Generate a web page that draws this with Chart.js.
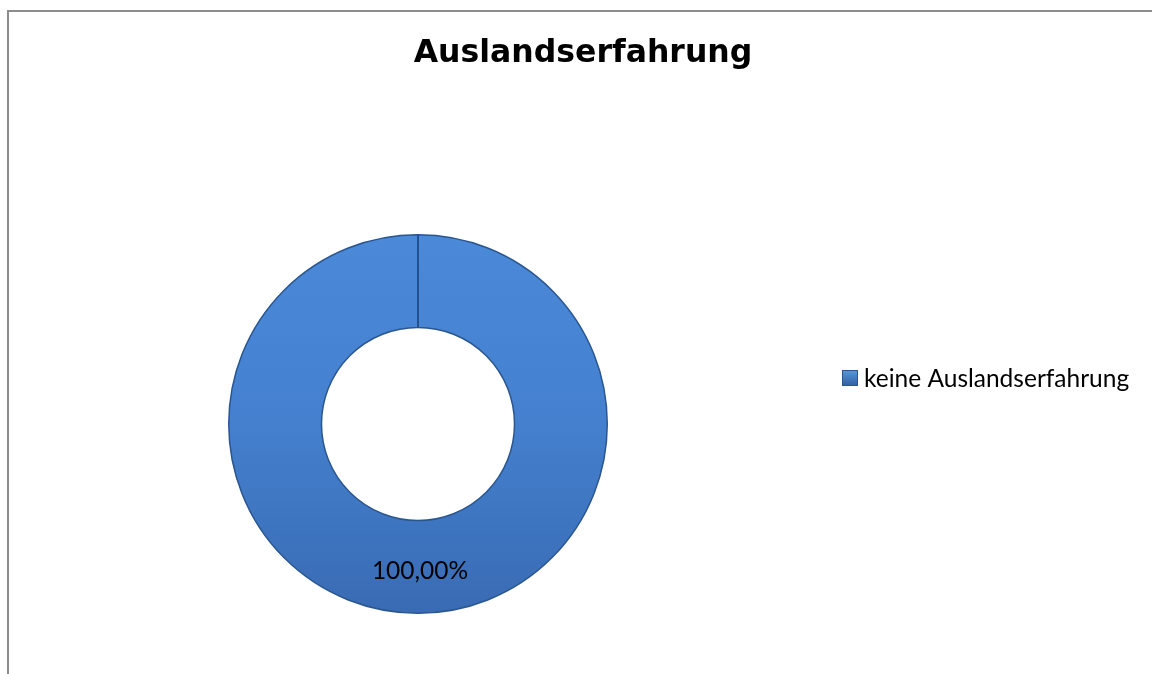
<!DOCTYPE html>
<html>
<head>
<meta charset="utf-8">
<script src="https://cdn.jsdelivr.net/npm/chart.js@4/dist/chart.umd.min.js"></script>
<style>
  html, body { margin: 0; padding: 0; background: #ffffff; overflow: hidden; }
  #wrap { position: relative; width: 1152px; height: 674px; overflow: hidden; }
  #frame { position: absolute; left: 7px; top: 10px; width: 1250px; height: 760px;
           border-left: 2px solid #8d8d8d; border-top: 2px solid #8d8d8d; pointer-events: none; }
  canvas { position: absolute; left: 0; top: 0; }
</style>
</head>
<body>
<div id="wrap">
  <canvas id="c" width="1152" height="674"></canvas>
  <div id="frame"></div>
</div>
<script>
const titleText = "Auslandserfahrung";
const categories = ["keine Auslandserfahrung"];
const seriesValues = [100];

const labelFont = "24.5px Lato, 'Open Sans', sans-serif";
const titleFont = "bold 31.5px 'DejaVu Sans', Verdana, sans-serif";

function fmtPct(v) {
  return v.toFixed(2).replace(".", ",") + "%";
}

const ctx = document.getElementById("c").getContext("2d");

function ringGradient(context) {
  const chart = context.chart;
  const area = chart.chartArea;
  if (!area) return "#4680cf";
  const g = chart.ctx.createLinearGradient(0, area.top, 0, area.bottom);
  g.addColorStop(0, "#4b89d9");
  g.addColorStop(0.5, "#4480ce");
  g.addColorStop(1, "#396bb3");
  return g;
}

const extras = {
  id: "extras",
  afterDatasetsDraw(chart) {
    const meta = chart.getDatasetMeta(0);
    const c = chart.ctx;
    const area = chart.chartArea;
    meta.data.forEach((arc, i) => {
      const p = arc.getProps(["x", "y", "startAngle", "endAngle", "innerRadius", "outerRadius"], true);
      c.save();
      // radial seam at segment start
      c.strokeStyle = "#22518e";
      c.lineWidth = 2;
      c.beginPath();
      c.moveTo(p.x + Math.cos(p.startAngle) * p.innerRadius, p.y + Math.sin(p.startAngle) * p.innerRadius);
      c.lineTo(p.x + Math.cos(p.startAngle) * p.outerRadius, p.y + Math.sin(p.startAngle) * p.outerRadius);
      c.stroke();
      // data label
      const mid = (p.startAngle + p.endAngle) / 2;
      const r = (p.innerRadius + p.outerRadius) / 2;
      c.fillStyle = "#000000";
      c.font = labelFont;
      c.textAlign = "center";
      c.textBaseline = "middle";
      c.fillText(fmtPct(seriesValues[i]), p.x + Math.cos(mid) * r + 2, p.y + Math.sin(mid) * r + 4);
      c.restore();
    });
    c.save();
    // title, centred over the whole chart frame
    c.fillStyle = "#000000";
    c.font = titleFont;
    c.textAlign = "center";
    c.textBaseline = "middle";
    c.fillText(titleText, 583, 54);
    // legend (drawn to the right of the chart area)
    categories.forEach((name, i) => {
      const bx = area.right + 6, by = 370 + i * 30;
      const g = c.createLinearGradient(0, by, 0, by + 16);
      g.addColorStop(0, "#5a97e0");
      g.addColorStop(1, "#2f5f9f");
      c.fillStyle = g;
      c.fillRect(bx, by, 16, 16);
      c.strokeStyle = "#2a5690";
      c.lineWidth = 1;
      c.strokeRect(bx + 0.5, by + 0.5, 15, 15);
      c.fillStyle = "#000000";
      c.font = labelFont;
      c.textAlign = "left";
      c.textBaseline = "middle";
      c.fillText(name, bx + 22, by + 9);
    });
    c.restore();
  }
};

new Chart(ctx, {
  type: "doughnut",
  data: {
    labels: categories,
    datasets: [{
      data: seriesValues,
      backgroundColor: ringGradient,
      borderColor: "#2a5690",
      borderWidth: 1.5,
      hoverOffset: 0
    }]
  },
  options: {
    responsive: false,
    animation: false,
    cutout: "51%",
    rotation: 0,
    layout: { padding: { left: 0, right: 316, bottom: 60, top: 234 } },
    plugins: {
      title: { display: false },
      legend: { display: false },
      tooltip: { enabled: false }
    }
  },
  plugins: [extras]
});
</script>
</body>
</html>
